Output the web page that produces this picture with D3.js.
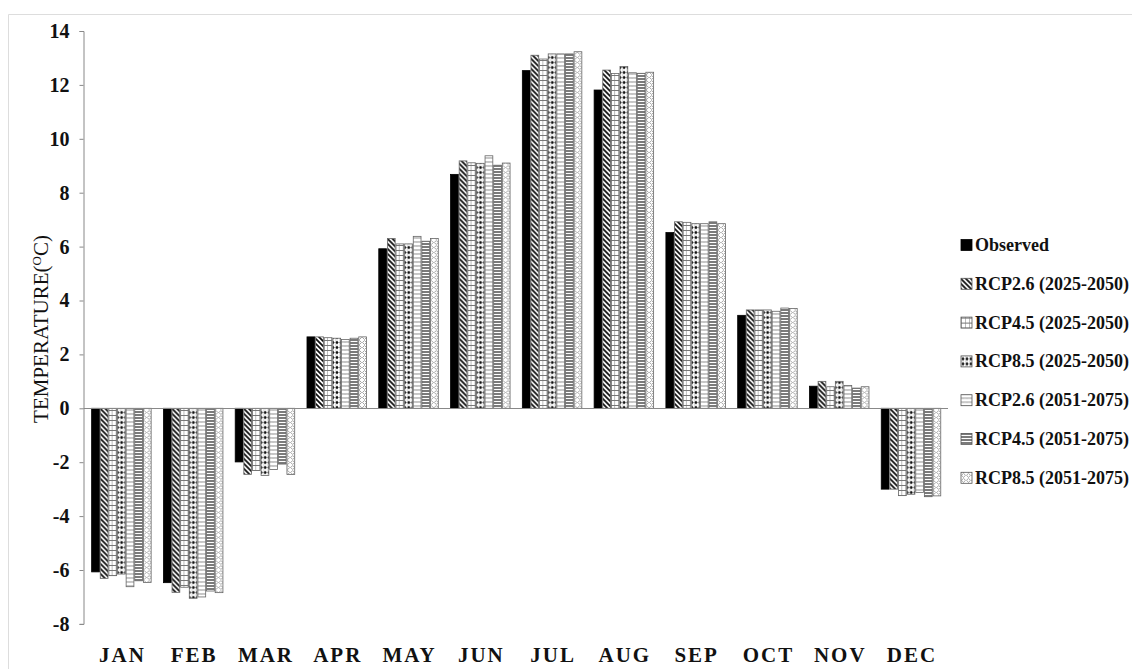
<!DOCTYPE html>
<html>
<head>
<meta charset="utf-8">
<script src="https://cdn.jsdelivr.net/npm/d3@7"></script>
<style>
	body { margin: 0; background: #fff; }
	svg { display: block; }
	text { font-family: "Liberation Serif", "Times New Roman", serif; }
</style>
</head>
<body>
<svg id="chart" width="1132" height="669"></svg>
<script>
var months = ["JAN", "FEB", "MAR", "APR", "MAY", "JUN", "JUL", "AUG", "SEP", "OCT", "NOV", "DEC"];

var seriesNames = [
	"Observed",
	"RCP2.6 (2025-2050)",
	"RCP4.5 (2025-2050)",
	"RCP8.5 (2025-2050)",
	"RCP2.6 (2051-2075)",
	"RCP4.5 (2051-2075)",
	"RCP8.5 (2051-2075)"
];

var observed = [-6.07, -6.47, -1.99, 2.65, 5.92, 8.68, 12.53, 11.81, 6.52, 3.45, 0.82, -3.0];
var rcp26a   = [-6.31, -6.83, -2.45, 2.65, 6.30, 9.18, 13.10, 12.55, 6.92, 3.65, 1.00, -3.0];
var rcp45a   = [-6.21, -6.64, -2.31, 2.62, 6.10, 9.11, 12.96, 12.42, 6.90, 3.65, 0.80, -3.24];
var rcp85a   = [-6.15, -7.05, -2.49, 2.60, 6.10, 9.09, 13.15, 12.68, 6.85, 3.65, 1.00, -3.19];
var rcp26b   = [-6.62, -7.00, -2.27, 2.55, 6.38, 9.37, 13.15, 12.45, 6.85, 3.60, 0.85, -3.12];
var rcp45b   = [-6.40, -6.78, -2.07, 2.60, 6.20, 9.02, 13.15, 12.43, 6.92, 3.72, 0.75, -3.28];
var rcp85b   = [-6.46, -6.84, -2.46, 2.65, 6.30, 9.10, 13.23, 12.47, 6.85, 3.70, 0.80, -3.25];

var yTicks = [-8, -6, -4, -2, 0, 2, 4, 6, 8, 10, 12, 14];

var seriesValues = [observed, rcp26a, rcp45a, rcp85a, rcp26b, rcp45b, rcp85b];
var fills = ["#000", "url(#p1)", "url(#p2)", "url(#p3)", "url(#p4)", "url(#p5)", "url(#p6)"];

var svg = d3.select("#chart");

// fill patterns, one per scenario
var defs = svg.append("defs");

function pattern(id, w, h) {
	var p = defs.append("pattern")
		.attr("id", id)
		.attr("patternUnits", "userSpaceOnUse")
		.attr("width", w)
		.attr("height", h);
	p.append("rect").attr("width", w).attr("height", h).attr("fill", "#fff");
	return p;
}

// wide diagonal stripes
var p1 = pattern("p1", 5, 5);
p1.append("path").attr("d", "M0,0L5,5M-1,4L1,6M4,-1L6,1")
	.attr("stroke", "#111").attr("stroke-width", 1.8);

// open grid
var p2 = pattern("p2", 4, 5);
p2.append("path").attr("d", "M0,0V5M0,0.5H4")
	.attr("stroke", "#777").attr("stroke-width", 1);

// dots
var p3 = pattern("p3", 4, 5);
p3.append("path").attr("d", "M2,0.5L3.6,2.5L2,4.5L0.4,2.5Z").attr("fill", "#111");
p3.append("path").attr("d", "M0,0V5").attr("stroke", "#999").attr("stroke-width", 0.6);

// light weave
var p4 = pattern("p4", 4, 4);
p4.append("path").attr("d", "M0,3L1,1L2,3L3,1L4,3")
	.attr("fill", "none").attr("stroke", "#aaa").attr("stroke-width", 0.8);

// narrow horizontal lines
var p5 = pattern("p5", 4, 3);
p5.append("path").attr("d", "M0,1H4").attr("stroke", "#333").attr("stroke-width", 1.3);

// light diamonds
var p6 = pattern("p6", 5, 5);
p6.append("path").attr("d", "M2.5,0.5L4.5,2.5L2.5,4.5L0.5,2.5Z")
	.attr("fill", "none").attr("stroke", "#999").attr("stroke-width", 0.9);

// outer frame
svg.append("path")
	.attr("d", "M8.5,669V14.5H1132")
	.attr("fill", "none")
	.attr("stroke", "#ddd");

var x = d3.scaleBand()
	.domain(months)
	.range([85.5, 946.9])
	.paddingInner(0.171)
	.paddingOuter(0.0855);

var xs = d3.scaleBand()
	.domain(d3.range(seriesNames.length))
	.range([0, x.bandwidth()])
	.paddingInner(0.1);

var y = d3.scaleLinear()
	.domain([-8, 14])
	.range([623.9, 31]);

// bars
var groups = svg.append("g").selectAll("g")
	.data(months)
	.enter().append("g")
	.attr("transform", function (d) { return "translate(" + x(d) + ",0)"; });

groups.selectAll("rect")
	.data(function (d, i) {
		return seriesValues.map(function (vals, s) { return { s: s, v: vals[i] }; });
	})
	.enter().append("rect")
	.attr("x", function (d) { return xs(d.s); })
	.attr("width", xs.bandwidth())
	.attr("y", function (d) { return y(Math.max(0, d.v)); })
	.attr("height", function (d) { return Math.abs(y(d.v) - y(0)); })
	.attr("fill", function (d) { return fills[d.s]; })
	.attr("stroke", function (d) { return d.s === 0 ? "#000" : "#666"; })
	.attr("stroke-width", 0.8);

// y axis, plain hyphen for negatives
var yAxis = svg.append("g")
	.attr("transform", "translate(83.5,0)")
	.call(d3.axisLeft(y).tickValues(yTicks).tickSize(4).tickPadding(10)
		.tickFormat(function (d) { return String(d); }));

yAxis.select(".domain").attr("stroke", "#888");
yAxis.selectAll(".tick line").attr("stroke", "#888");
yAxis.selectAll(".tick text")
	.attr("font-size", 20)
	.attr("font-weight", "bold")
	.attr("fill", "#111");

// zero line
svg.append("line")
	.attr("x1", 83.5).attr("x2", 948)
	.attr("y1", Math.round(y(0)) + 0.5).attr("y2", Math.round(y(0)) + 0.5)
	.attr("stroke", "#888");

// month labels, placed low
svg.append("g").selectAll("text")
	.data(months)
	.enter().append("text")
	.attr("x", function (d) { return x(d) + x.bandwidth() / 2 + 1; })
	.attr("y", 662)
	.attr("text-anchor", "middle")
	.attr("font-size", 21)
	.attr("font-weight", "bold")
	.attr("letter-spacing", 2)
	.attr("fill", "#111")
	.text(function (d) { return d; });

// y title
var title = svg.append("text")
	.attr("transform", "translate(48,329) rotate(-90)")
	.attr("text-anchor", "middle")
	.attr("font-size", 21)
	.attr("fill", "#111");
title.append("tspan").text("TEMPERATURE(");
title.append("tspan").attr("font-size", 13).attr("dy", -7).text("O");
title.append("tspan").attr("dy", 7).text("C)");

// legend
var legend = svg.append("g").selectAll("g")
	.data(seriesNames)
	.enter().append("g")
	.attr("transform", function (d, i) { return "translate(961," + (245 + i * 38.8) + ")"; });

legend.append("rect")
	.attr("x", 0).attr("y", -5.5)
	.attr("width", 11).attr("height", 11)
	.attr("fill", function (d, i) { return fills[i]; })
	.attr("stroke", function (d, i) { return i === 0 ? "#000" : "#555"; })
	.attr("stroke-width", 0.8);

legend.append("text")
	.attr("x", 14)
	.attr("y", 6)
	.attr("font-size", 18)
	.attr("font-weight", "bold")
	.attr("fill", "#111")
	.text(function (d) { return d; });
</script>
</body>
</html>
